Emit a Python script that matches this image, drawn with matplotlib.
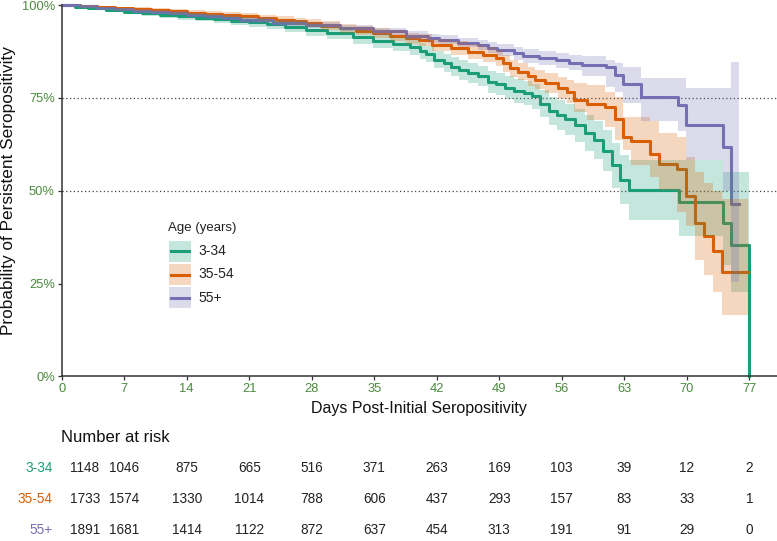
import matplotlib
matplotlib.use("Agg")
import matplotlib.pyplot as plt
import matplotlib.transforms as mtransforms
from matplotlib.patches import Rectangle
from matplotlib.lines import Line2D

plt.rcParams['font.family'] = ['Liberation Sans', 'DejaVu Sans']

# Kaplan-Meier estimates (days, survival, 95% CI)
t_g = [0, 1.5, 3, 5, 7, 9, 11, 13, 15, 17, 19, 21, 23, 25, 27.4, 29.7, 32.6, 34.9, 37.1, 39.0,
       40.1, 40.8, 41.7, 42.8, 43.6, 44.5, 45.5, 46.6, 47.7, 48.6, 49.6, 50.7, 51.8, 52.7, 53.6,
       54.6, 55.5, 56.4, 57.5, 58.6, 59.6, 60.6, 61.6, 62.5, 63.5, 69.1, 74.0, 74.9, 77.0]
s_g = [1.0, .996, .992, .987, .982, .978, .974, .970, .966, .962, .958, .954, .948, .942, .933,
       .924, .913, .903, .895, .886, .877, .868, .853, .843, .834, .825, .818, .809, .793, .787,
       .778, .768, .763, .754, .734, .714, .704, .692, .676, .656, .636, .608, .568, .530, .502,
       .470, .414, .355, 0.0]
hi_g = [1.0, .999, .996, .992, .988, .985, .982, .979, .976, .972, .969, .966, .961, .956, .948,
        .940, .930, .921, .914, .906, .898, .890, .876, .867, .859, .851, .845, .837, .822, .817,
        .809, .800, .796, .788, .770, .752, .744, .734, .721, .704, .687, .663, .628, .595, .583,
        .583, .550, .550, 0.0]
lo_g = [1.0, .993, .988, .982, .976, .971, .966, .961, .956, .952, .947, .942, .935, .928, .918,
        .908, .896, .885, .876, .866, .856, .846, .830, .819, .809, .799, .791, .781, .764, .757,
        .747, .736, .730, .720, .698, .676, .664, .650, .631, .608, .585, .553, .508, .465, .420,
        .378, .300, .226, 0.0]

t_o = [0, 2, 4, 6, 8, 10, 12, 14, 16, 18, 20, 22, 24, 26, 27.4, 29, 31.2, 33, 34.9, 36.8,
       38.6, 40, 41.5, 43.6, 45.5, 47.2, 48.6, 49.4, 50.2, 51.1, 52.2, 53.0, 54.1, 55.6, 56.6,
       57.4, 58.8, 60.8, 62.0, 62.9, 63.8, 65.9, 66.9, 68.9, 69.9, 70.9, 71.9, 72.9, 73.9, 76.9]
s_o = [1.0, .998, .995, .992, .989, .986, .983, .980, .977, .974, .970, .966, .961, .956, .952,
       .945, .938, .931, .925, .918, .911, .906, .893, .884, .875, .866, .857, .843, .830, .821,
       .808, .799, .790, .777, .767, .745, .734, .726, .694, .644, .635, .599, .572, .558, .486,
       .414, .379, .337, .281, .281]
hi_o = [1.0, 1.0, .998, .996, .994, .991, .989, .986, .984, .981, .978, .974, .970, .966, .962,
        .956, .950, .943, .938, .932, .926, .922, .910, .902, .894, .886, .878, .865, .853, .845,
        .833, .825, .817, .806, .798, .790, .785, .767, .753, .699, .699, .689, .655, .646, .592,
        .550, .520, .500, .477, .477]
lo_o = [1.0, .996, .992, .988, .984, .981, .977, .974, .970, .967, .962, .958, .952, .946, .942,
        .934, .926, .919, .912, .904, .896, .890, .876, .866, .856, .846, .836, .821, .807, .797,
        .783, .773, .763, .748, .736, .711, .690, .672, .637, .610, .569, .538, .502, .443, .405,
        .314, .274, .226, .165, .165]

t_p = [0, 2, 4, 6, 8, 10, 12, 14, 16, 18, 20, 23.7, 27.4, 31.2, 34.9, 38.6, 41.0, 42.3, 44.4,
       46.6, 47.7, 48.8, 50.6, 51.7, 53.5, 55.3, 56.8, 58.3, 60.9, 62.0, 62.9, 64.9, 69.0, 69.9,
       74.0, 74.9, 75.9]
s_p = [1.0, .997, .993, .989, .985, .981, .978, .974, .970, .966, .961, .952, .946, .938, .929,
       .918, .911, .907, .899, .893, .885, .879, .870, .863, .857, .851, .845, .838, .832, .812,
       .787, .752, .730, .678, .617, .463, .463]
hi_p = [1.0, .999, .996, .993, .990, .986, .984, .980, .977, .973, .969, .960, .955, .947, .939,
        .929, .923, .920, .912, .907, .900, .895, .887, .881, .876, .871, .866, .862, .852, .845,
        .834, .803, .803, .778, .778, .848, .848]
lo_p = [1.0, .995, .990, .985, .980, .976, .972, .968, .963, .959, .953, .944, .937, .929, .919,
        .907, .899, .894, .886, .879, .870, .863, .853, .845, .838, .831, .824, .810, .780, .767,
        .735, .689, .660, .583, .500, .253, .253]

groups = ['3-34', '35-54', '55+']
colors = ['#1b9e77', '#d95f02', '#7570b3']

risk_days = [0, 7, 14, 21, 28, 35, 42, 49, 56, 63, 70, 77]
risk_g = [1148, 1046, 875, 665, 516, 371, 263, 169, 103, 39, 12, 2]
risk_o = [1733, 1574, 1330, 1014, 788, 606, 437, 293, 157, 83, 33, 1]
risk_p = [1891, 1681, 1414, 1122, 872, 637, 454, 313, 191, 91, 29, 0]

curves = [(t_g, s_g, lo_g, hi_g), (t_o, s_o, lo_o, hi_o), (t_p, s_p, lo_p, hi_p)]
risks = [risk_g, risk_o, risk_p]

W, H = 777, 541
fig = plt.figure(figsize=(W / 100, H / 100), dpi=100)
ax = fig.add_axes([61.7 / W, 1 - 376.3 / H, 1 - 61.7 / W, 371.2 / H])

tick_col = '#4a8a3c'

for y in [0.5, 0.75]:
    ax.axhline(y, color='#444444', lw=0.9, ls=(0, (1, 2)), zorder=1)

# lines first, ribbons on top (as in the original)
for (t, s, lo, hi), c in zip(curves, colors):
    ax.step(t, s, where='post', color=c, lw=2.2, zorder=2, clip_on=False)
for (t, s, lo, hi), c in zip(curves, colors):
    ax.fill_between(t, lo, hi, step='post', color=c, alpha=0.25, lw=0, zorder=3)

ax.set_xlim(0, 80.1)
ax.set_ylim(0, 1)
ax.set_xticks(risk_days)
ax.set_yticks([0, 0.25, 0.5, 0.75, 1.0])
ax.set_yticklabels(['0%', '25%', '50%', '75%', '100%'])
ax.tick_params(axis='both', colors='#333333', labelcolor=tick_col, labelsize=9.3,
               length=3, width=0.9, pad=2)

for side in ['top', 'right']:
    ax.spines[side].set_visible(False)
for side in ['left', 'bottom']:
    ax.spines[side].set_color('#333333')
    ax.spines[side].set_linewidth(1.1)

ax.set_xlabel('Days Post-Initial Seropositivity', fontsize=11.5, color='#111111', labelpad=4)
ax.set_ylabel('Probability of Persistent Seropositivity', fontsize=12.4, color='#111111',
              labelpad=4)

# legend drawn by hand: shaded key box with the line across it
fig.text(168 / W, 1 - 228 / H, 'Age (years)', fontsize=9.5, color='#222222',
         ha='left', va='center')
for i, (g, c) in enumerate(zip(groups, colors)):
    top = 240.7 + i * 23.3
    mid = 1 - (top + 10.5) / H
    fig.add_artist(Rectangle((169 / W, 1 - (top + 21) / H), 21.7 / W, 21 / H,
                             transform=fig.transFigure, facecolor=c, alpha=0.25,
                             edgecolor='none'))
    fig.add_artist(Line2D([171 / W, 189 / W], [mid, mid], transform=fig.transFigure,
                          color=c, lw=2.2))
    fig.text(198 / W, mid, g, fontsize=10, color='#222222', ha='left', va='center')

# number at risk table
fig.text(61 / W, 1 - 437 / H, 'Number at risk', fontsize=12, color='#111111',
         ha='left', va='center')
tr = mtransforms.blended_transform_factory(ax.transData, fig.transFigure)
tr_first = mtransforms.offset_copy(tr, fig=fig, x=8, y=0, units='dots')
row_y = [1 - 468 / H, 1 - 499 / H, 1 - 530 / H]
for g, c, r, yy in zip(groups, colors, risks, row_y):
    fig.text(53 / W, yy, g, color=c, fontsize=9.8, ha='right', va='center')
    for i, (d, n) in enumerate(zip(risk_days, r)):
        if i == 0:
            ax.text(d, yy, str(n), transform=tr_first, ha='left', va='center',
                    fontsize=9.8, color='#222222', clip_on=False)
        else:
            ax.text(d, yy, str(n), transform=tr, ha='center', va='center',
                    fontsize=9.8, color='#222222', clip_on=False)

fig.savefig('out.png', dpi=100)
